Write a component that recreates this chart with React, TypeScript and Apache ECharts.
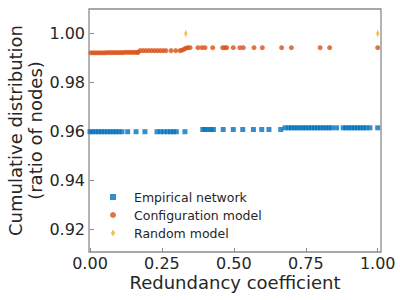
import React, { useEffect, useRef } from "react";
import * as echarts from "echarts";

const xTicks = [0, 0.25, 0.5, 0.75, 1.0];
const yTicks = [0.92, 0.94, 0.96, 0.98, 1.0];
const seriesNames = ["Empirical network", "Configuration model", "Random model"];

const empiricalNetwork: [number, number][] = [
  [0.0, 0.9599], [0.01, 0.9599], [0.02, 0.9599], [0.03, 0.9599], [0.04, 0.9599],
  [0.05, 0.9599], [0.06, 0.9599], [0.07, 0.9599], [0.08, 0.9599], [0.09, 0.9599],
  [0.1, 0.9599], [0.111, 0.9599], [0.131, 0.9599], [0.16, 0.9599], [0.191, 0.9599],
  [0.233, 0.9599], [0.245, 0.9599], [0.257, 0.9599], [0.269, 0.9599], [0.28, 0.9599],
  [0.29, 0.9599], [0.3, 0.9599], [0.33, 0.9599],
  [0.392, 0.9608], [0.4, 0.9608], [0.41, 0.9608], [0.42, 0.9608], [0.429, 0.9608],
  [0.463, 0.9608], [0.498, 0.9608], [0.531, 0.9608], [0.568, 0.9608], [0.597, 0.9608],
  [0.622, 0.9608], [0.663, 0.9608],
  [0.678, 0.9615], [0.69, 0.9615], [0.7, 0.9615], [0.71, 0.9615], [0.72, 0.9615],
  [0.73, 0.9615], [0.74, 0.9615], [0.75, 0.9615], [0.76, 0.9615], [0.77, 0.9615],
  [0.78, 0.9615], [0.79, 0.9615], [0.8, 0.9615], [0.81, 0.9615], [0.82, 0.9615],
  [0.83, 0.9615], [0.84, 0.9615], [0.857, 0.9615], [0.88, 0.9615], [0.89, 0.9615],
  [0.9, 0.9615], [0.91, 0.9615], [0.92, 0.9615], [0.93, 0.9615], [0.94, 0.9615],
  [0.95, 0.9615], [0.96, 0.9615], [0.973, 0.9615], [1.0, 0.9615],
];

const configurationModel: [number, number][] = [
  [0.003, 0.9921], [0.011, 0.9921], [0.019, 0.9921], [0.027, 0.9921], [0.035, 0.9921],
  [0.043, 0.9921], [0.051, 0.9921], [0.059, 0.9922], [0.067, 0.9922], [0.075, 0.9922],
  [0.083, 0.9922], [0.091, 0.9922], [0.099, 0.9922], [0.107, 0.9922], [0.115, 0.9922],
  [0.123, 0.9923], [0.131, 0.9923], [0.139, 0.9923], [0.147, 0.9923], [0.155, 0.9923],
  [0.163, 0.9923], [0.167, 0.9923],
  [0.174, 0.993], [0.184, 0.993], [0.194, 0.993], [0.204, 0.993], [0.214, 0.993],
  [0.224, 0.993], [0.234, 0.993], [0.244, 0.993], [0.254, 0.993], [0.264, 0.993],
  [0.282, 0.993], [0.298, 0.993], [0.313, 0.993],
  [0.32, 0.9932], [0.327, 0.9936], [0.333, 0.994], [0.34, 0.9942],
  [0.348, 0.9942], [0.375, 0.9942], [0.389, 0.9942], [0.4, 0.9942], [0.4265, 0.9942],
  [0.461, 0.9942], [0.469, 0.9942], [0.475, 0.9942], [0.498, 0.9942], [0.521, 0.9942],
  [0.533, 0.9942], [0.57, 0.9942], [0.599, 0.9942], [0.666, 0.9942], [0.7, 0.9942],
  [0.8, 0.9942], [0.833, 0.9942], [1.0, 0.9942],
];

const randomModel: [number, number][] = [
  [0.333, 1.0],
  [1.0, 1.0],
];

const BLUE = "#0072BD";
const ORANGE = "#D95319";
const YELLOW = "#EDB120";
const TEXT = "#262626";
const FONT = "DejaVu Sans";
const DIAMOND = "path://M2.5,0 L5,4 L2.5,8 L0,4 Z";

export default function App() {
  const ref = useRef<HTMLDivElement>(null);

  useEffect(() => {
    if (!ref.current) return;
    const chart = echarts.init(ref.current, null, { renderer: "svg" });
    chart.setOption({
      animation: false,
      textStyle: { fontFamily: FONT, color: TEXT },
      grid: {
        left: 89,
        right: 19,
        top: 9,
        bottom: 48,
        containLabel: false,
        outerBoundsMode: "none",
        show: true,
        borderColor: "#8c8c8c",
        borderWidth: 1.3,
        backgroundColor: "transparent",
      },
      legend: {
        orient: "vertical",
        left: 105,
        top: 185,
        itemWidth: 6,
        itemHeight: 7,
        itemGap: 4,
        textStyle: {
          fontFamily: FONT,
          fontSize: 12.5,
          color: TEXT,
          lineHeight: 14,
          padding: [0, 0, 0, 13],
        },
        data: [
          { name: seriesNames[0], icon: "path://M0,0 L5,0 L5,5 L0,5 Z" },
          { name: seriesNames[1], icon: "circle" },
          { name: seriesNames[2], icon: DIAMOND },
        ],
      },
      xAxis: {
        type: "value",
        min: -0.0035,
        max: 1.0115,
        name: "Redundancy coefficient",
        nameLocation: "middle",
        nameGap: 21,
        nameMoveOverlap: false,
        nameTextStyle: { fontFamily: FONT, fontSize: 18, color: TEXT },
        axisLine: { show: false },
        splitLine: { show: false },
        axisTick: {
          show: true,
          inside: true,
          length: 4,
          customValues: xTicks,
          lineStyle: { color: "#8c8c8c", width: 1 },
        },
        axisLabel: {
          customValues: xTicks,
          formatter: (v: number) => v.toFixed(2),
          fontFamily: FONT,
          fontSize: 16,
          color: TEXT,
          margin: 3,
        },
      },
      yAxis: {
        type: "value",
        min: 0.9108,
        max: 1.01,
        name: "Cumulative distribution\n(ratio of nodes)",
        nameLocation: "middle",
        nameGap: 44,
        nameMoveOverlap: false,
        nameTextStyle: { fontFamily: FONT, fontSize: 18, color: TEXT, lineHeight: 20 },
        axisLine: { show: false },
        splitLine: { show: false },
        axisTick: {
          show: true,
          inside: true,
          length: 4,
          customValues: yTicks,
          lineStyle: { color: "#8c8c8c", width: 1 },
        },
        axisLabel: {
          customValues: yTicks,
          formatter: (v: number) => v.toFixed(2),
          fontFamily: FONT,
          fontSize: 16,
          color: TEXT,
          margin: 4,
        },
      },
      series: [
        {
          name: seriesNames[0],
          type: "scatter",
          symbol: "rect",
          symbolSize: 5,
          itemStyle: { color: BLUE },
          data: empiricalNetwork,
        },
        {
          name: seriesNames[1],
          type: "scatter",
          symbol: "circle",
          symbolSize: 5,
          itemStyle: { color: ORANGE },
          data: configurationModel,
        },
        {
          name: seriesNames[2],
          type: "scatter",
          symbol: DIAMOND,
          symbolKeepAspect: true,
          symbolSize: [5, 8],
          itemStyle: { color: YELLOW },
          data: randomModel,
        },
      ],
    });
    return () => chart.dispose();
  }, []);

  return (
    <div
      ref={ref}
      style={{ position: "absolute", left: 0, top: 0, width: 400, height: 300 }}
    />
  );
}
